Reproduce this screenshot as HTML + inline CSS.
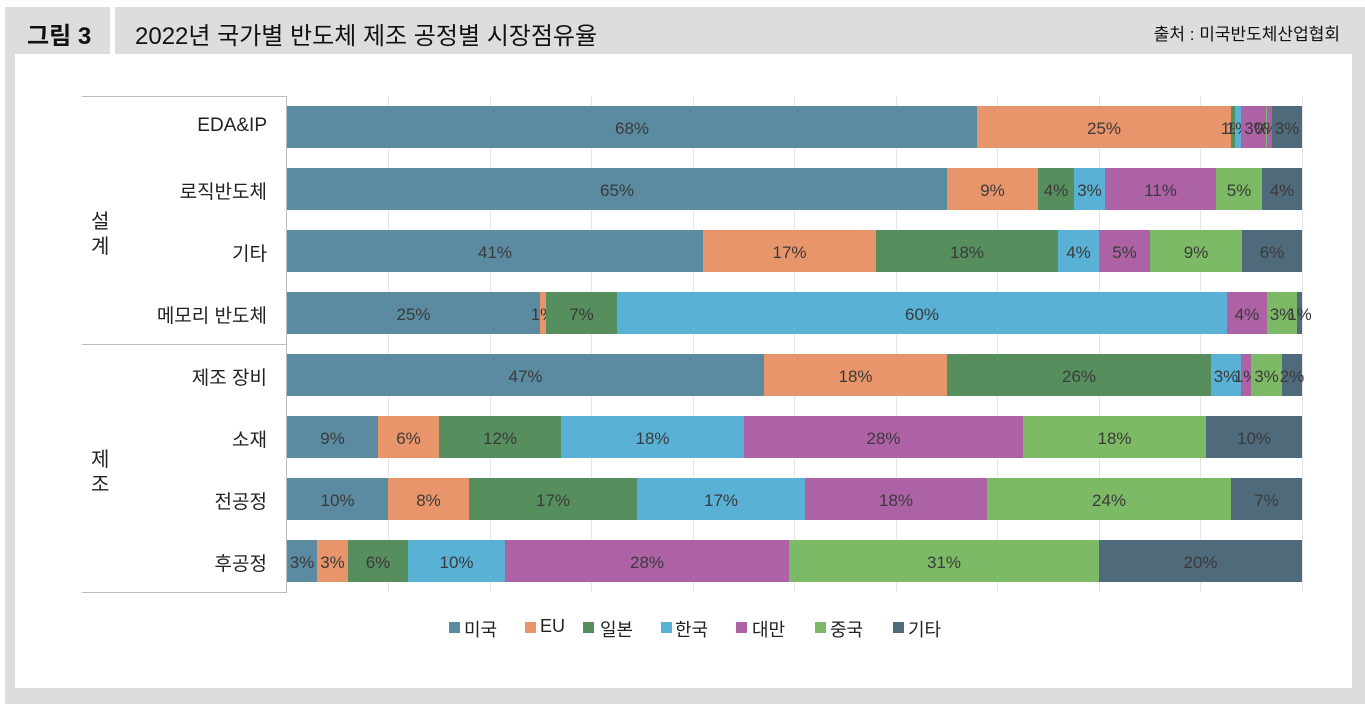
<!DOCTYPE html>
<html><head><meta charset="utf-8"><style>
body{margin:0;width:1365px;height:704px;background:#fff;position:relative;overflow:hidden;font-family:"Liberation Sans","Noto Sans CJK KR",sans-serif;}
.a{position:absolute}
.g{position:absolute;background:#dcdddd}
.s{position:absolute;height:42px;display:flex;align-items:center;justify-content:center;white-space:nowrap;font-size:17px;color:#3a3a3a;overflow:visible}
.s span{display:block;padding-top:3px}
.us{background:#5b8ba0}.eu{background:#e8956b}.jp{background:#568f5d}.kr{background:#5ab1d6}.tw{background:#ad62a6}.cn{background:#7dba66}.ot{background:#4f6b7b}
.gl{position:absolute;top:96px;height:496px;width:1px;background:#e6e6e6}
.rl{position:absolute;right:1098px;font-size:19px;color:#222;white-space:nowrap}
.lg{position:absolute;top:622px;width:11px;height:11px}
.lt{position:absolute;top:616px;font-size:18px;color:#222}
</style></head><body>
<div class="g" style="left:5px;top:7px;width:105px;height:47px"></div>
<div class="g" style="left:115px;top:7px;width:1250px;height:47px"></div>
<div class="g" style="left:5px;top:54px;width:10px;height:650px"></div>
<div class="g" style="left:1352px;top:54px;width:13px;height:650px"></div>
<div class="g" style="left:5px;top:688px;width:1360px;height:16px"></div>
<div class="a" style="left:27px;top:16px;font-size:24px;font-weight:bold;color:#111">그림 3</div>
<div class="a" style="left:135px;top:16px;font-size:24px;color:#111">2022년 국가별 반도체 제조 공정별 시장점유율</div>
<div class="a" style="right:25px;top:20px;font-size:17px;color:#111">출처 : 미국반도체산업협회</div>

<div class="gl" style="left:388px"></div><div class="gl" style="left:490px"></div><div class="gl" style="left:591px"></div><div class="gl" style="left:693px"></div><div class="gl" style="left:794px"></div><div class="gl" style="left:896px"></div><div class="gl" style="left:997px"></div><div class="gl" style="left:1099px"></div><div class="gl" style="left:1200px"></div><div class="gl" style="left:1302px"></div>

<div class="a" style="left:82px;top:96px;width:205px;height:1px;background:#bbb"></div>
<div class="a" style="left:82px;top:344px;width:205px;height:1px;background:#bbb"></div>
<div class="a" style="left:82px;top:592px;width:205px;height:1px;background:#bbb"></div>
<div class="a" style="left:286px;top:96px;width:1px;height:497px;background:#bbb"></div>

<div class="a" style="left:91px;top:210px;font-size:20px;line-height:25px;color:#222">설<br>계</div>
<div class="a" style="left:91px;top:448px;font-size:20px;line-height:25px;color:#222">제<br>조</div>

<div class="rl" style="top:115px">EDA&amp;IP</div>
<div class="rl" style="top:177px">로직반도체</div>
<div class="rl" style="top:239px">기타</div>
<div class="rl" style="top:301px">메모리 반도체</div>
<div class="rl" style="top:363px">제조 장비</div>
<div class="rl" style="top:425px">소재</div>
<div class="rl" style="top:487px">전공정</div>
<div class="rl" style="top:549px">후공정</div>

<!-- row1 -->
<div class="s us" style="top:106px;left:287px;width:690px"><span>68%</span></div>
<div class="s eu" style="top:106px;left:977px;width:254px"><span>25%</span></div>
<div class="s jp" style="top:106px;left:1231px;width:4px"><span>1%</span></div>
<div class="s kr" style="top:106px;left:1235px;width:6px"><span>1%</span></div>
<div class="s tw" style="top:106px;left:1241px;width:31px"><span>3%</span></div>
<div class="s cn" style="top:106px;left:1266px;width:1px"><span>0%</span></div>
<div class="s ot" style="top:106px;left:1272px;width:30px"><span>3%</span></div>
<!-- row2 -->
<div class="s us" style="top:168px;left:287px;width:660px"><span>65%</span></div>
<div class="s eu" style="top:168px;left:947px;width:91px"><span>9%</span></div>
<div class="s jp" style="top:168px;left:1038px;width:36px"><span>4%</span></div>
<div class="s kr" style="top:168px;left:1074px;width:31px"><span>3%</span></div>
<div class="s tw" style="top:168px;left:1105px;width:111px"><span>11%</span></div>
<div class="s cn" style="top:168px;left:1216px;width:46px"><span>5%</span></div>
<div class="s ot" style="top:168px;left:1262px;width:40px"><span>4%</span></div>
<!-- row3 -->
<div class="s us" style="top:230px;left:287px;width:416px"><span>41%</span></div>
<div class="s eu" style="top:230px;left:703px;width:173px"><span>17%</span></div>
<div class="s jp" style="top:230px;left:876px;width:182px"><span>18%</span></div>
<div class="s kr" style="top:230px;left:1058px;width:41px"><span>4%</span></div>
<div class="s tw" style="top:230px;left:1099px;width:51px"><span>5%</span></div>
<div class="s cn" style="top:230px;left:1150px;width:92px"><span>9%</span></div>
<div class="s ot" style="top:230px;left:1242px;width:60px"><span>6%</span></div>
<!-- row4 -->
<div class="s us" style="top:292px;left:287px;width:253px"><span>25%</span></div>
<div class="s eu" style="top:292px;left:540px;width:6px"><span>1%</span></div>
<div class="s jp" style="top:292px;left:546px;width:71px"><span>7%</span></div>
<div class="s kr" style="top:292px;left:617px;width:610px"><span>60%</span></div>
<div class="s tw" style="top:292px;left:1227px;width:40px"><span>4%</span></div>
<div class="s cn" style="top:292px;left:1267px;width:30px"><span>3%</span></div>
<div class="s ot" style="top:292px;left:1297px;width:5px"><span>1%</span></div>
<!-- row5 -->
<div class="s us" style="top:354px;left:287px;width:477px"><span>47%</span></div>
<div class="s eu" style="top:354px;left:764px;width:183px"><span>18%</span></div>
<div class="s jp" style="top:354px;left:947px;width:264px"><span>26%</span></div>
<div class="s kr" style="top:354px;left:1211px;width:30px"><span>3%</span></div>
<div class="s tw" style="top:354px;left:1241px;width:10px"><span>1%</span></div>
<div class="s cn" style="top:354px;left:1251px;width:31px"><span>3%</span></div>
<div class="s ot" style="top:354px;left:1282px;width:20px"><span>2%</span></div>
<!-- row6 -->
<div class="s us" style="top:416px;left:287px;width:91px"><span>9%</span></div>
<div class="s eu" style="top:416px;left:378px;width:61px"><span>6%</span></div>
<div class="s jp" style="top:416px;left:439px;width:122px"><span>12%</span></div>
<div class="s kr" style="top:416px;left:561px;width:183px"><span>18%</span></div>
<div class="s tw" style="top:416px;left:744px;width:279px"><span>28%</span></div>
<div class="s cn" style="top:416px;left:1023px;width:183px"><span>18%</span></div>
<div class="s ot" style="top:416px;left:1206px;width:96px"><span>10%</span></div>
<!-- row7 -->
<div class="s us" style="top:478px;left:287px;width:101px"><span>10%</span></div>
<div class="s eu" style="top:478px;left:388px;width:81px"><span>8%</span></div>
<div class="s jp" style="top:478px;left:469px;width:168px"><span>17%</span></div>
<div class="s kr" style="top:478px;left:637px;width:168px"><span>17%</span></div>
<div class="s tw" style="top:478px;left:805px;width:182px"><span>18%</span></div>
<div class="s cn" style="top:478px;left:987px;width:244px"><span>24%</span></div>
<div class="s ot" style="top:478px;left:1231px;width:71px"><span>7%</span></div>
<!-- row8 -->
<div class="s us" style="top:540px;left:287px;width:30px"><span>3%</span></div>
<div class="s eu" style="top:540px;left:317px;width:31px"><span>3%</span></div>
<div class="s jp" style="top:540px;left:348px;width:60px"><span>6%</span></div>
<div class="s kr" style="top:540px;left:408px;width:97px"><span>10%</span></div>
<div class="s tw" style="top:540px;left:505px;width:284px"><span>28%</span></div>
<div class="s cn" style="top:540px;left:789px;width:310px"><span>31%</span></div>
<div class="s ot" style="top:540px;left:1099px;width:203px"><span>20%</span></div>

<!-- legend -->
<div class="lg us" style="left:449px"></div><div class="lt" style="left:464px">미국</div>
<div class="lg eu" style="left:525px"></div><div class="lt" style="left:540px">EU</div>
<div class="lg jp" style="left:583px"></div><div class="lt" style="left:600px">일본</div>
<div class="lg kr" style="left:661px"></div><div class="lt" style="left:675px">한국</div>
<div class="lg tw" style="left:736px"></div><div class="lt" style="left:752px">대만</div>
<div class="lg cn" style="left:815px"></div><div class="lt" style="left:830px">중국</div>
<div class="lg ot" style="left:893px"></div><div class="lt" style="left:908px">기타</div>
</body></html>
